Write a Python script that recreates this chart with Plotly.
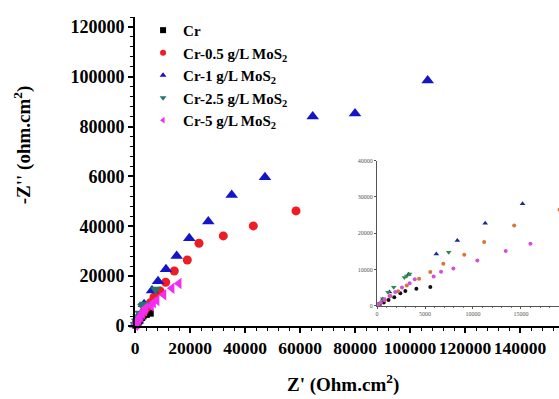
import plotly.graph_objects as go

# ---------------- data (Z' , -Z'') ----------------
series_names = ["Cr", "Cr-0.5 g/L MoS<sub>2</sub>", "Cr-1 g/L MoS<sub>2</sub>",
                "Cr-2.5 g/L MoS<sub>2</sub>", "Cr-5 g/L MoS<sub>2</sub>"]

cr_x = [300, 700, 1200, 1800, 2430, 2950, 4100, 5550]
cr_y = [350, 900, 1600, 2300, 3440, 4080, 4650, 5150]

cr05_x = [58550, 43020, 32110, 23270, 19020, 14290, 11160, 9090, 6910, 5550, 4380, 3100, 2200, 1400, 800, 300]
cr05_y = [46180, 40160, 36140, 33210, 26500, 22090, 17550, 14060, 11580, 9280, 7420, 5600, 4000, 2700, 1500, 500]

cr1_x = [106430, 80000, 64620, 47270, 35160, 26650, 19740, 15160, 11270, 8370, 6180, 3300, 1300, 600, 200]
cr1_y = [98520, 85260, 84060, 59720, 52610, 41890, 35220, 28110, 22770, 17970, 14280, 8700, 3800, 1800, 500]

cr25_x = [7470, 3400, 3100, 2850, 1740, 1150, 600, 200]
cr25_y = [14720, 8720, 8200, 7780, 5110, 3720, 1900, 600]

cr5_x = [15980, 13410, 10450, 7950, 6670, 5900, 3930, 3400, 2600, 1900, 1300, 800, 400, 150]
cr5_y = [17060, 15110, 12500, 10280, 9360, 8060, 7330, 6220, 5000, 3800, 2700, 1700, 900, 300]

y_tickvals = [0, 20000, 40000, 60000, 80000, 100000, 120000]
y_ticktext = ["0", "20000", "40000", "6000", "80000", "100000", "120000"]
x_tickvals = [0, 20000, 40000, 60000, 80000, 100000, 120000, 140000]
x_ticktext = ["0", "20000", "40000", "60000", "80000", "100000", "120000", "140000"]
inset_x_ticks = [0, 5000, 10000, 15000]
inset_x_text = ["0", "5000", "10000", "15000"]
inset_y_ticks = [0, 10000, 20000, 30000, 40000]
inset_y_text = ["0", "10000", "20000", "30000", "40000"]

xs = [cr_x, cr05_x, cr1_x, cr25_x, cr5_x]
ys = [cr_y, cr05_y, cr1_y, cr25_y, cr5_y]

main_colors = ["#000000", "#ee1c25", "#1414c8", "#23786e", "#f22cf0"]
main_symbols = ["square", "circle", "triangle-up", "triangle-down", "triangle-left"]
main_sizes = [7, 9, 11, 10, 10]

inset_colors = ["#111111", "#d9733a", "#1c2a8c", "#2f8a4e", "#d64fd6"]
inset_symbols = ["circle", "circle", "triangle-up", "triangle-down", "circle"]
inset_sizes = [4, 4, 5, 5, 4]

FONT = "Liberation Serif"

fig = go.Figure()

# main traces
for i in range(5):
    fig.add_trace(go.Scatter(
        x=xs[i], y=ys[i], mode="markers", showlegend=False,
        marker=dict(color=main_colors[i], symbol=main_symbols[i], size=main_sizes[i],
                    line=dict(width=0)),
        xaxis="x", yaxis="y", cliponaxis=False))

# legend-only traces (small markers like the reference legend)
for i in range(5):
    fig.add_trace(go.Scatter(
        x=[None], y=[None], mode="markers", name=series_names[i],
        marker=dict(color=main_colors[i], symbol=main_symbols[i], size=6),
        xaxis="x", yaxis="y"))

# inset traces
for i in range(5):
    fig.add_trace(go.Scatter(
        x=xs[i], y=ys[i], mode="markers", showlegend=False,
        marker=dict(color=inset_colors[i], symbol=inset_symbols[i], size=inset_sizes[i],
                    line=dict(width=0)),
        xaxis="x2", yaxis="y2"))

tickfont = dict(family=FONT, size=18, color="black", weight="bold")
xtickfont = dict(family=FONT, size=17.5, color="black", weight="bold")
inset_font = dict(family=FONT, size=6, color="#555555")

fig.update_layout(
    width=559, height=399,
    margin=dict(l=135, r=0, t=17, b=73),
    paper_bgcolor="white", plot_bgcolor="white",
    font=dict(family=FONT, color="black"),
    xaxis=dict(range=[0, 154180], domain=[0, 1], tickvals=x_tickvals, ticktext=x_ticktext,
               automargin=False, tickangle=0,
               showgrid=False, zeroline=False, showline=True, linecolor="black", linewidth=2,
               ticks="outside", ticklen=5, tickwidth=1.5, tickcolor="black",
               tickfont=xtickfont,
               minor=dict(dtick=4000, ticks="outside", ticklen=3, tickwidth=1, tickcolor="black")),
    yaxis=dict(range=[0, 124000], domain=[0, 1], tickvals=y_tickvals, ticktext=y_ticktext,
               automargin=False,
               showgrid=False, zeroline=False, showline=True, linecolor="black", linewidth=2,
               ticks="outside", ticklen=5, tickwidth=1.5, tickcolor="black",
               tickfont=tickfont,
               minor=dict(dtick=4000, ticks="outside", ticklen=3, tickwidth=1, tickcolor="black")),
    xaxis2=dict(range=[0, 18960], domain=[0.5708, 1.0], anchor="y2",
                tickvals=inset_x_ticks, ticktext=inset_x_text, automargin=False, tickangle=0,
                showgrid=False, zeroline=False, showline=True, linecolor="#555555", linewidth=1,
                ticks="outside", ticklen=2, tickcolor="#555555", tickfont=inset_font,
                minor=dict(dtick=1000, ticks="outside", ticklen=1, tickcolor="#777777")),
    yaxis2=dict(range=[0, 40000], domain=[0.0657, 0.535], anchor="x2",
                tickvals=inset_y_ticks, ticktext=inset_y_text, automargin=False,
                showgrid=False, zeroline=False, showline=True, linecolor="#555555", linewidth=1,
                ticks="outside", ticklen=2, tickcolor="#555555", tickfont=inset_font),
    legend=dict(x=0.019, y=1.01, xanchor="left", yanchor="top",
                bgcolor="rgba(0,0,0,0)", borderwidth=0,
                font=dict(family=FONT, size=15, color="black", weight="bold"),
                itemwidth=30, tracegroupgap=0),
    annotations=[
        dict(text="-Z'' (ohm.cm<sup>2</sup>)", textangle=-90, xref="paper", yref="paper",
             x=-0.2665, y=0.585, xanchor="center", yanchor="middle", showarrow=False,
             font=dict(family=FONT, size=19, color="black", weight="bold")),
        dict(text="Z' (Ohm.cm<sup>2</sup>)", xref="paper", yref="paper",
             x=0.4906, y=-0.1877, xanchor="center", yanchor="middle", showarrow=False,
             font=dict(family=FONT, size=19, color="black", weight="bold")),
    ],
)

fig.write_html("out.html", config={"displayModeBar": False},
               post_script="document.body.style.margin='0';document.body.style.overflow='hidden';")
